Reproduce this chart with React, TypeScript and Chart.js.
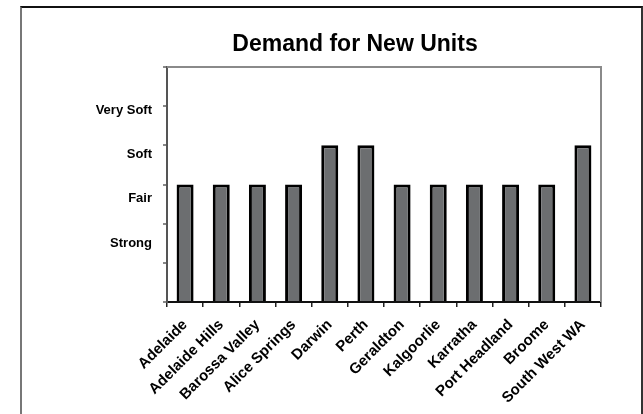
import React, { useEffect, useRef } from 'react';
import { Chart, registerables } from 'chart.js';

Chart.register(...registerables);

const categories = [
  'Adelaide',
  'Adelaide Hills',
  'Barossa Valley',
  'Alice Springs',
  'Darwin',
  'Perth',
  'Geraldton',
  'Kalgoorlie',
  'Karratha',
  'Port Headland',
  'Broome',
  'South West WA',
];
const demandValues = [3, 3, 3, 3, 4, 4, 3, 3, 3, 3, 3, 4];
const ratingLabels = ['Strong', 'Fair', 'Soft', 'Very Soft'];
const ratingPositions = [1, 2, 3, 4];

const FONT = "'Liberation Sans', Arial, sans-serif";

const plotFrame = {
  id: 'plotFrame',
  beforeDatasetsDraw(chart: any) {
    const { ctx, chartArea } = chart;
    const { left, top, right, bottom } = chartArea;
    ctx.save();
    ctx.strokeStyle = '#8a8a8a';
    ctx.lineWidth = 2;
    ctx.beginPath();
    ctx.moveTo(left, top);
    ctx.lineTo(right, top);
    ctx.lineTo(right, bottom);
    ctx.stroke();
    ctx.restore();
  },
};

export default function App() {
  const ref = useRef<HTMLCanvasElement | null>(null);

  useEffect(() => {
    if (!ref.current) return;
    const chart = new Chart(ref.current, {
      type: 'bar',
      data: {
        labels: categories,
        datasets: [
          {
            data: demandValues,
            backgroundColor: '#6c6e70',
            borderColor: '#000000',
            borderWidth: 3,
            barPercentage: 1,
            categoryPercentage: 0.47,
            yAxisID: 'y',
          },
        ],
      },
      options: {
        animation: false,
        responsive: false,
        devicePixelRatio: 1,
        layout: { padding: 0 },
        plugins: {
          legend: { display: false },
          tooltip: { enabled: false },
          title: {
            display: true,
            text: 'Demand for New Units',
            color: '#000',
            font: { family: FONT, size: 23, weight: 'bold' },
            padding: { top: 31, bottom: 8.4 },
          },
        },
        scales: {
          x: {
            type: 'category',
            position: 'bottom',
            grid: {
              offset: true,
              drawOnChartArea: false,
              drawTicks: true,
              tickLength: 5,
              color: '#222',
              lineWidth: 1.5,
            },
            border: { display: true, color: '#111', width: 2 },
            ticks: {
              autoSkip: false,
              minRotation: 45,
              maxRotation: 45,
              padding: 9,
              color: '#000',
              font: { family: FONT, size: 15, weight: 'bold' },
            },
            afterFit(scale: any) {
              scale.height = 112;
            },
          },
          y: {
            type: 'linear',
            position: 'left',
            weight: 0,
            min: 0,
            max: 6,
            ticks: { stepSize: 1, display: false },
            grid: {
              drawOnChartArea: false,
              drawTicks: true,
              tickLength: 4,
              color: '#888',
              lineWidth: 2,
            },
            border: { display: true, color: '#555', width: 2 },
            afterFit(scale: any) {
              scale.width = 7;
            },
          },
          y2: {
            type: 'linear',
            position: 'left',
            weight: 1,
            min: -0.331,
            max: 4.97,
            grid: { display: false, drawTicks: false, drawOnChartArea: false },
            border: { display: false },
            ticks: {
              padding: 8,
              color: '#000',
              font: { family: FONT, size: 13, weight: 'bold' },
              callback: (value: any) => {
                const i = ratingPositions.indexOf(Number(value));
                return i >= 0 ? ratingLabels[i] : '';
              },
            },
            afterBuildTicks(scale: any) {
              scale.ticks = ratingPositions.map((v) => ({ value: v }));
            },
            afterFit(scale: any) {
              scale.width = 93;
            },
          },
          yRight: {
            type: 'linear',
            position: 'right',
            min: 0,
            max: 6,
            grid: { display: false, drawTicks: false, drawOnChartArea: false },
            border: { display: false },
            ticks: { display: false },
            afterFit(scale: any) {
              scale.width = 42;
            },
          },
        },
      },
      plugins: [plotFrame],
    } as any);
    return () => chart.destroy();
  }, []);

  return (
    <div
      style={{
        position: 'fixed',
        left: 0,
        top: 0,
        width: 643,
        height: 414,
        overflow: 'hidden',
        background: '#fff',
      }}
    >
      <div
        style={{
          position: 'absolute',
          left: 20,
          top: 6,
          width: 619,
          height: 460,
          borderLeft: '2px solid #777',
          borderTop: '2px solid #111',
          borderRight: '2px solid #333',
        }}
      />
      <canvas
        ref={ref}
        width={576}
        height={414}
        style={{ position: 'absolute', left: 67, top: 0, width: 576, height: 414 }}
      />
    </div>
  );
}
